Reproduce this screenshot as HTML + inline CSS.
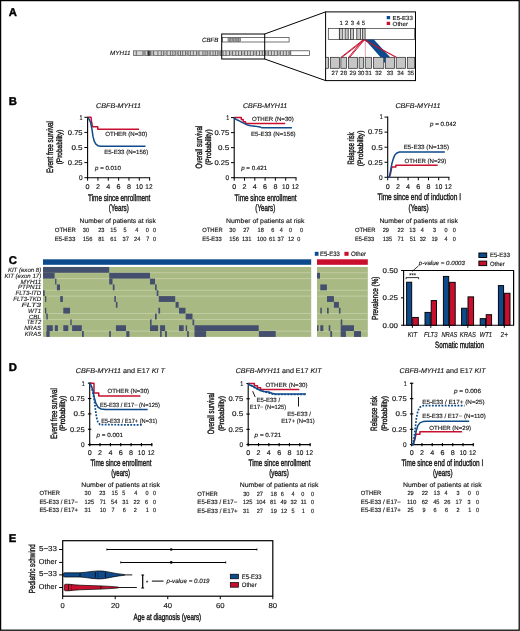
<!DOCTYPE html>
<html><head><meta charset="utf-8"><title>Figure</title>
<style>
html,body{margin:0;padding:0;background:#fff;}
svg{display:block;will-change:transform;}
text{font-family:"Liberation Sans",sans-serif;text-rendering:geometricPrecision;stroke:#1a1a1a;stroke-width:0.14px;}
</style></head>
<body>
<svg width="520" height="631" viewBox="0 0 520 631">
<rect x="0" y="0" width="520" height="631" fill="#fff"/>
<rect x="0.60" y="0.60" width="518.60" height="629.60" fill="none" stroke="#000" stroke-width="1.25"/>
<text x="8.7" y="15.8" font-size="11.3" font-weight="bold" fill="#000" style="stroke:#000;stroke-width:0.4px">A</text>
<text x="8.7" y="105.1" font-size="11.3" font-weight="bold" fill="#000" style="stroke:#000;stroke-width:0.4px">B</text>
<text x="8.7" y="263.6" font-size="11.3" font-weight="bold" fill="#000" style="stroke:#000;stroke-width:0.4px">C</text>
<text x="8.7" y="370.7" font-size="11.3" font-weight="bold" fill="#000" style="stroke:#000;stroke-width:0.4px">D</text>
<text x="8.7" y="541.7" font-size="11.3" font-weight="bold" fill="#000" style="stroke:#000;stroke-width:0.4px">E</text>
<text x="218.50" y="42.33" font-size="6.2" text-anchor="end" font-style="italic" textLength="16.50" lengthAdjust="spacingAndGlyphs" fill="#111">CBFB</text>
<rect x="222.30" y="37.60" width="66.80" height="4.40" fill="#fff" stroke="#3a3a3a" stroke-width="0.7"/>
<rect x="228.00" y="37.90" width="2.00" height="3.80" fill="#a8a8a8" stroke="#555" stroke-width="0.55"/>
<rect x="230.70" y="37.90" width="2.00" height="3.80" fill="#a8a8a8" stroke="#555" stroke-width="0.55"/>
<rect x="233.40" y="37.90" width="2.00" height="3.80" fill="#a8a8a8" stroke="#555" stroke-width="0.55"/>
<rect x="236.10" y="37.90" width="2.00" height="3.80" fill="#a8a8a8" stroke="#555" stroke-width="0.55"/>
<rect x="238.60" y="37.90" width="2.00" height="3.80" fill="#a8a8a8" stroke="#555" stroke-width="0.55"/>
<text x="130.50" y="55.33" font-size="6.2" text-anchor="end" font-style="italic" textLength="20.50" lengthAdjust="spacingAndGlyphs" fill="#111">MYH11</text>
<rect x="133.40" y="50.80" width="157.40" height="4.80" fill="#d4d4d4" stroke="#555" stroke-width="0.7"/>
<rect x="143.00" y="50.80" width="2.00" height="4.80" fill="#b8b8b8"/>
<rect x="147.80" y="50.80" width="1.90" height="4.80" fill="#333"/>
<rect x="150.70" y="50.80" width="2.90" height="4.80" fill="#b8b8b8"/>
<rect x="163.70" y="50.80" width="3.30" height="4.80" fill="#b8b8b8"/>
<rect x="175.20" y="50.80" width="2.90" height="4.80" fill="#b8b8b8"/>
<rect x="185.60" y="50.80" width="2.40" height="4.80" fill="#b8b8b8"/>
<rect x="196.60" y="50.80" width="2.40" height="4.80" fill="#b8b8b8"/>
<rect x="207.20" y="50.80" width="2.90" height="4.80" fill="#b8b8b8"/>
<rect x="217.80" y="50.80" width="2.40" height="4.80" fill="#b8b8b8"/>
<rect x="229.50" y="50.80" width="3.10" height="4.80" fill="#b8b8b8"/>
<rect x="241.50" y="50.80" width="3.10" height="4.80" fill="#b8b8b8"/>
<rect x="253.40" y="50.80" width="3.00" height="4.80" fill="#b8b8b8"/>
<rect x="265.30" y="50.80" width="3.00" height="4.80" fill="#b8b8b8"/>
<rect x="277.40" y="50.80" width="2.90" height="4.80" fill="#b8b8b8"/>
<rect x="289.00" y="50.80" width="1.80" height="4.80" fill="#b8b8b8"/>
<line x1="136.30" y1="51.00" x2="136.30" y2="55.40" stroke="#444" stroke-width="0.75"/>
<line x1="143.00" y1="51.00" x2="143.00" y2="55.40" stroke="#444" stroke-width="0.75"/>
<line x1="145.00" y1="51.00" x2="145.00" y2="55.40" stroke="#444" stroke-width="0.75"/>
<line x1="147.80" y1="51.00" x2="147.80" y2="55.40" stroke="#444" stroke-width="0.75"/>
<line x1="149.70" y1="51.00" x2="149.70" y2="55.40" stroke="#444" stroke-width="0.75"/>
<line x1="150.70" y1="51.00" x2="150.70" y2="55.40" stroke="#444" stroke-width="0.75"/>
<line x1="153.60" y1="51.00" x2="153.60" y2="55.40" stroke="#444" stroke-width="0.75"/>
<line x1="157.90" y1="51.00" x2="157.90" y2="55.40" stroke="#444" stroke-width="0.75"/>
<line x1="161.30" y1="51.00" x2="161.30" y2="55.40" stroke="#444" stroke-width="0.75"/>
<line x1="163.70" y1="51.00" x2="163.70" y2="55.40" stroke="#444" stroke-width="0.75"/>
<line x1="167.00" y1="51.00" x2="167.00" y2="55.40" stroke="#444" stroke-width="0.75"/>
<line x1="170.40" y1="51.00" x2="170.40" y2="55.40" stroke="#444" stroke-width="0.75"/>
<line x1="172.80" y1="51.00" x2="172.80" y2="55.40" stroke="#444" stroke-width="0.75"/>
<line x1="175.20" y1="51.00" x2="175.20" y2="55.40" stroke="#444" stroke-width="0.75"/>
<line x1="178.10" y1="51.00" x2="178.10" y2="55.40" stroke="#444" stroke-width="0.75"/>
<line x1="180.50" y1="51.00" x2="180.50" y2="55.40" stroke="#444" stroke-width="0.75"/>
<line x1="182.70" y1="51.00" x2="182.70" y2="55.40" stroke="#444" stroke-width="0.75"/>
<line x1="185.60" y1="51.00" x2="185.60" y2="55.40" stroke="#444" stroke-width="0.75"/>
<line x1="188.00" y1="51.00" x2="188.00" y2="55.40" stroke="#444" stroke-width="0.75"/>
<line x1="190.40" y1="51.00" x2="190.40" y2="55.40" stroke="#444" stroke-width="0.75"/>
<line x1="193.30" y1="51.00" x2="193.30" y2="55.40" stroke="#444" stroke-width="0.75"/>
<line x1="196.60" y1="51.00" x2="196.60" y2="55.40" stroke="#444" stroke-width="0.75"/>
<line x1="199.00" y1="51.00" x2="199.00" y2="55.40" stroke="#444" stroke-width="0.75"/>
<line x1="202.90" y1="51.00" x2="202.90" y2="55.40" stroke="#444" stroke-width="0.75"/>
<line x1="205.10" y1="51.00" x2="205.10" y2="55.40" stroke="#444" stroke-width="0.75"/>
<line x1="207.20" y1="51.00" x2="207.20" y2="55.40" stroke="#444" stroke-width="0.75"/>
<line x1="210.10" y1="51.00" x2="210.10" y2="55.40" stroke="#444" stroke-width="0.75"/>
<line x1="213.00" y1="51.00" x2="213.00" y2="55.40" stroke="#444" stroke-width="0.75"/>
<line x1="215.40" y1="51.00" x2="215.40" y2="55.40" stroke="#444" stroke-width="0.75"/>
<line x1="217.80" y1="51.00" x2="217.80" y2="55.40" stroke="#444" stroke-width="0.75"/>
<line x1="220.20" y1="51.00" x2="220.20" y2="55.40" stroke="#444" stroke-width="0.75"/>
<line x1="223.00" y1="51.00" x2="223.00" y2="55.40" stroke="#444" stroke-width="0.75"/>
<line x1="226.00" y1="51.00" x2="226.00" y2="55.40" stroke="#444" stroke-width="0.75"/>
<line x1="229.50" y1="51.00" x2="229.50" y2="55.40" stroke="#444" stroke-width="0.75"/>
<line x1="232.60" y1="51.00" x2="232.60" y2="55.40" stroke="#444" stroke-width="0.75"/>
<line x1="235.80" y1="51.00" x2="235.80" y2="55.40" stroke="#444" stroke-width="0.75"/>
<line x1="238.60" y1="51.00" x2="238.60" y2="55.40" stroke="#444" stroke-width="0.75"/>
<line x1="241.50" y1="51.00" x2="241.50" y2="55.40" stroke="#444" stroke-width="0.75"/>
<line x1="244.60" y1="51.00" x2="244.60" y2="55.40" stroke="#444" stroke-width="0.75"/>
<line x1="247.60" y1="51.00" x2="247.60" y2="55.40" stroke="#444" stroke-width="0.75"/>
<line x1="250.30" y1="51.00" x2="250.30" y2="55.40" stroke="#444" stroke-width="0.75"/>
<line x1="253.40" y1="51.00" x2="253.40" y2="55.40" stroke="#444" stroke-width="0.75"/>
<line x1="256.40" y1="51.00" x2="256.40" y2="55.40" stroke="#444" stroke-width="0.75"/>
<line x1="259.50" y1="51.00" x2="259.50" y2="55.40" stroke="#444" stroke-width="0.75"/>
<line x1="262.30" y1="51.00" x2="262.30" y2="55.40" stroke="#444" stroke-width="0.75"/>
<line x1="265.30" y1="51.00" x2="265.30" y2="55.40" stroke="#444" stroke-width="0.75"/>
<line x1="268.30" y1="51.00" x2="268.30" y2="55.40" stroke="#444" stroke-width="0.75"/>
<line x1="271.40" y1="51.00" x2="271.40" y2="55.40" stroke="#444" stroke-width="0.75"/>
<line x1="274.30" y1="51.00" x2="274.30" y2="55.40" stroke="#444" stroke-width="0.75"/>
<line x1="277.40" y1="51.00" x2="277.40" y2="55.40" stroke="#444" stroke-width="0.75"/>
<line x1="280.30" y1="51.00" x2="280.30" y2="55.40" stroke="#444" stroke-width="0.75"/>
<line x1="283.30" y1="51.00" x2="283.30" y2="55.40" stroke="#444" stroke-width="0.75"/>
<line x1="286.30" y1="51.00" x2="286.30" y2="55.40" stroke="#444" stroke-width="0.75"/>
<line x1="289.00" y1="51.00" x2="289.00" y2="55.40" stroke="#444" stroke-width="0.75"/>
<rect x="290.80" y="50.80" width="18.60" height="4.80" fill="#fff" stroke="#3a3a3a" stroke-width="0.7"/>
<rect x="221.70" y="34.00" width="43.00" height="25.00" fill="none" stroke="#000" stroke-width="1.0"/>
<line x1="264.70" y1="34.00" x2="325.60" y2="11.90" stroke="#000" stroke-width="1.0"/>
<line x1="264.70" y1="59.00" x2="325.60" y2="80.60" stroke="#000" stroke-width="1.0"/>
<rect x="325.60" y="11.90" width="89.90" height="68.70" fill="#fff" stroke="#000" stroke-width="1.0"/>
<rect x="328.30" y="28.50" width="86.40" height="10.90" fill="#fff" stroke="#333" stroke-width="0.7"/>
<line x1="339.40" y1="28.50" x2="339.40" y2="39.40" stroke="#333" stroke-width="0.7"/>
<rect x="339.40" y="28.50" width="3.40" height="10.90" fill="#c6c6c6" stroke="#222" stroke-width="0.7"/>
<rect x="345.10" y="28.50" width="3.10" height="10.90" fill="#c6c6c6" stroke="#222" stroke-width="0.7"/>
<rect x="350.50" y="28.50" width="2.90" height="10.90" fill="#c6c6c6" stroke="#222" stroke-width="0.7"/>
<rect x="356.80" y="28.50" width="3.90" height="10.90" fill="#c6c6c6" stroke="#222" stroke-width="0.7"/>
<rect x="362.40" y="28.50" width="2.70" height="10.90" fill="#c6c6c6" stroke="#222" stroke-width="0.7"/>
<text x="341.10" y="25.16" font-size="6.0" text-anchor="middle" fill="#222">1</text>
<text x="346.60" y="25.16" font-size="6.0" text-anchor="middle" fill="#222">2</text>
<text x="352.40" y="25.16" font-size="6.0" text-anchor="middle" fill="#222">3</text>
<text x="358.20" y="25.16" font-size="6.0" text-anchor="middle" fill="#222">4</text>
<text x="363.40" y="25.16" font-size="6.0" text-anchor="middle" fill="#222">5</text>
<rect x="325.60" y="57.30" width="2.90" height="11.00" fill="#c6c6c6" stroke="#222" stroke-width="0.7"/>
<rect x="330.30" y="57.30" width="9.10" height="11.00" fill="#c6c6c6" stroke="#222" stroke-width="0.7"/>
<rect x="340.90" y="57.30" width="5.70" height="11.00" fill="#c6c6c6" stroke="#222" stroke-width="0.7"/>
<rect x="348.50" y="57.30" width="9.10" height="11.00" fill="#c6c6c6" stroke="#222" stroke-width="0.7"/>
<rect x="359.10" y="57.30" width="4.30" height="11.00" fill="#c6c6c6" stroke="#222" stroke-width="0.7"/>
<rect x="365.20" y="57.30" width="6.40" height="11.00" fill="#c6c6c6" stroke="#222" stroke-width="0.7"/>
<rect x="373.40" y="57.30" width="10.40" height="11.00" fill="#c6c6c6" stroke="#222" stroke-width="0.7"/>
<rect x="385.50" y="57.30" width="8.90" height="11.00" fill="#c6c6c6" stroke="#222" stroke-width="0.7"/>
<rect x="396.20" y="57.30" width="9.40" height="11.00" fill="#c6c6c6" stroke="#222" stroke-width="0.7"/>
<rect x="407.30" y="57.30" width="7.40" height="11.00" fill="#c6c6c6" stroke="#222" stroke-width="0.7"/>
<text x="334.90" y="75.36" font-size="6.0" text-anchor="middle" fill="#222">27</text>
<text x="343.70" y="75.36" font-size="6.0" text-anchor="middle" fill="#222">28</text>
<text x="352.90" y="75.36" font-size="6.0" text-anchor="middle" fill="#222">29</text>
<text x="361.00" y="75.36" font-size="6.0" text-anchor="middle" fill="#222">30</text>
<text x="368.50" y="75.36" font-size="6.0" text-anchor="middle" fill="#222">31</text>
<text x="378.60" y="75.36" font-size="6.0" text-anchor="middle" fill="#222">32</text>
<text x="390.10" y="75.36" font-size="6.0" text-anchor="middle" fill="#222">33</text>
<text x="400.50" y="75.36" font-size="6.0" text-anchor="middle" fill="#222">34</text>
<text x="410.80" y="75.36" font-size="6.0" text-anchor="middle" fill="#222">35</text>
<path d="M364.8,39.6 L373.8,39.6 L390.2,57.3 L385.4,57.3 L385.2,62.5 L383.8,62.5 L383.6,57.3 L380.6,57.3 Z" fill="#0d4a8c" stroke="none" stroke-width="0"/>
<line x1="363.20" y1="39.80" x2="341.00" y2="57.30" stroke="#c8102e" stroke-width="0.95"/>
<line x1="364.60" y1="39.80" x2="341.90" y2="57.30" stroke="#c8102e" stroke-width="0.95"/>
<line x1="362.80" y1="39.80" x2="348.70" y2="57.30" stroke="#c8102e" stroke-width="0.95"/>
<line x1="364.40" y1="39.80" x2="349.80" y2="57.30" stroke="#c8102e" stroke-width="0.95"/>
<line x1="364.00" y1="39.70" x2="396.20" y2="57.30" stroke="#c8102e" stroke-width="1.1"/>
<line x1="365.30" y1="39.60" x2="365.30" y2="57.30" stroke="#c8102e" stroke-width="0.4"/>
<rect x="386.70" y="16.00" width="3.40" height="3.20" fill="#0d4a8c"/>
<rect x="386.70" y="21.80" width="3.40" height="3.20" fill="#c8102e"/>
<text x="392.60" y="19.63" font-size="5.9" textLength="20.30" lengthAdjust="spacingAndGlyphs" fill="#111">E5-E33</text>
<text x="392.60" y="25.73" font-size="5.9" textLength="15.40" lengthAdjust="spacingAndGlyphs" fill="#111">Other</text>
<line x1="87.60" y1="116.70" x2="87.60" y2="178.30" stroke="#000" stroke-width="1.1"/>
<line x1="87.10" y1="177.70" x2="150.14" y2="177.70" stroke="#000" stroke-width="1.1"/>
<line x1="84.40" y1="177.70" x2="87.60" y2="177.70" stroke="#000" stroke-width="1.0"/>
<text x="82.60" y="180.04" font-size="6.8" text-anchor="end" textLength="3.60" lengthAdjust="spacingAndGlyphs" fill="#111">0</text>
<line x1="84.40" y1="162.60" x2="87.60" y2="162.60" stroke="#000" stroke-width="1.0"/>
<text x="82.60" y="164.94" font-size="6.8" text-anchor="end" textLength="14.80" lengthAdjust="spacingAndGlyphs" fill="#111">0.25</text>
<line x1="84.40" y1="147.50" x2="87.60" y2="147.50" stroke="#000" stroke-width="1.0"/>
<text x="82.60" y="149.84" font-size="6.8" text-anchor="end" textLength="11.20" lengthAdjust="spacingAndGlyphs" fill="#111">0.5</text>
<line x1="84.40" y1="132.40" x2="87.60" y2="132.40" stroke="#000" stroke-width="1.0"/>
<text x="82.60" y="134.74" font-size="6.8" text-anchor="end" textLength="14.80" lengthAdjust="spacingAndGlyphs" fill="#111">0.75</text>
<line x1="84.40" y1="117.30" x2="87.60" y2="117.30" stroke="#000" stroke-width="1.0"/>
<text x="82.60" y="119.64" font-size="6.8" text-anchor="end" textLength="3.00" lengthAdjust="spacingAndGlyphs" fill="#111">1</text>
<line x1="87.60" y1="177.70" x2="87.60" y2="180.70" stroke="#000" stroke-width="1.0"/>
<text x="87.60" y="189.27" font-size="6.9" text-anchor="middle" textLength="4.00" lengthAdjust="spacingAndGlyphs" fill="#111">0</text>
<line x1="97.94" y1="177.70" x2="97.94" y2="180.70" stroke="#000" stroke-width="1.0"/>
<text x="97.94" y="189.27" font-size="6.9" text-anchor="middle" textLength="4.00" lengthAdjust="spacingAndGlyphs" fill="#111">2</text>
<line x1="108.28" y1="177.70" x2="108.28" y2="180.70" stroke="#000" stroke-width="1.0"/>
<text x="108.28" y="189.27" font-size="6.9" text-anchor="middle" textLength="4.00" lengthAdjust="spacingAndGlyphs" fill="#111">4</text>
<line x1="118.62" y1="177.70" x2="118.62" y2="180.70" stroke="#000" stroke-width="1.0"/>
<text x="118.62" y="189.27" font-size="6.9" text-anchor="middle" textLength="4.00" lengthAdjust="spacingAndGlyphs" fill="#111">6</text>
<line x1="128.96" y1="177.70" x2="128.96" y2="180.70" stroke="#000" stroke-width="1.0"/>
<text x="128.96" y="189.27" font-size="6.9" text-anchor="middle" textLength="4.00" lengthAdjust="spacingAndGlyphs" fill="#111">8</text>
<line x1="139.30" y1="177.70" x2="139.30" y2="180.70" stroke="#000" stroke-width="1.0"/>
<text x="139.30" y="189.27" font-size="6.9" text-anchor="middle" textLength="7.20" lengthAdjust="spacingAndGlyphs" fill="#111">10</text>
<line x1="149.64" y1="177.70" x2="149.64" y2="180.70" stroke="#000" stroke-width="1.0"/>
<text x="148.94" y="189.27" font-size="6.9" text-anchor="middle" textLength="7.20" lengthAdjust="spacingAndGlyphs" fill="#111">12</text>
<text transform="translate(52.56,147.00) rotate(-90)" x="0" y="0" font-size="9.2" text-anchor="middle" textLength="52.00" lengthAdjust="spacingAndGlyphs" fill="#111" style="stroke-width:0.4px">Event free survival</text>
<text transform="translate(62.08,147.00) rotate(-90)" x="0" y="0" font-size="7.8" text-anchor="middle" textLength="34.60" lengthAdjust="spacingAndGlyphs" fill="#111" style="stroke-width:0.4px">(Probability)</text>
<text x="96.00" y="108.30" font-size="6.9" textLength="45.00" lengthAdjust="spacingAndGlyphs" fill="#111"><tspan font-style="italic">CBFB-MYH11</tspan></text>
<text x="88.00" y="200.63" font-size="9.4" style="stroke-width:0.4px" textLength="62.40" lengthAdjust="spacingAndGlyphs" fill="#111">Time since enrollment</text>
<text x="108.80" y="211.23" font-size="9.4" style="stroke-width:0.4px" textLength="20.00" lengthAdjust="spacingAndGlyphs" fill="#111">(Years)</text>
<path d="M87.60,117.30 L91.06,117.30 L91.48,121.53 L92.25,125.15 L92.77,126.78 L97.78,126.78 L97.78,129.20 L139.04,129.20" fill="none" stroke="#c8102e" stroke-width="1.5" stroke-linejoin="round"/>
<path d="M87.60,117.30 L89.15,119.41 L90.70,122.74 L91.99,129.38 L93.03,136.63 L94.32,141.46 L95.87,144.18 L97.94,145.69 L100.52,146.29 L145.50,146.29" fill="none" stroke="#0f4a8a" stroke-width="1.5" stroke-linejoin="round"/>
<text x="105.20" y="135.86" font-size="6.0" textLength="42.00" lengthAdjust="spacingAndGlyphs" fill="#111">OTHER (N=30)</text>
<text x="104.20" y="154.06" font-size="6.0" textLength="44.10" lengthAdjust="spacingAndGlyphs" fill="#111">E5-E33 (N=156)</text>
<text x="95.00" y="169.96" font-size="6.0" textLength="25.80" lengthAdjust="spacingAndGlyphs" fill="#111"><tspan font-style="italic">p</tspan> = 0.010</text>
<line x1="234.20" y1="117.00" x2="234.20" y2="178.30" stroke="#000" stroke-width="1.1"/>
<line x1="233.70" y1="177.70" x2="296.50" y2="177.70" stroke="#000" stroke-width="1.1"/>
<line x1="231.00" y1="177.70" x2="234.20" y2="177.70" stroke="#000" stroke-width="1.0"/>
<text x="229.20" y="180.04" font-size="6.8" text-anchor="end" textLength="3.60" lengthAdjust="spacingAndGlyphs" fill="#111">0</text>
<line x1="231.00" y1="162.67" x2="234.20" y2="162.67" stroke="#000" stroke-width="1.0"/>
<text x="229.20" y="165.01" font-size="6.8" text-anchor="end" textLength="14.80" lengthAdjust="spacingAndGlyphs" fill="#111">0.25</text>
<line x1="231.00" y1="147.65" x2="234.20" y2="147.65" stroke="#000" stroke-width="1.0"/>
<text x="229.20" y="149.99" font-size="6.8" text-anchor="end" textLength="11.20" lengthAdjust="spacingAndGlyphs" fill="#111">0.5</text>
<line x1="231.00" y1="132.62" x2="234.20" y2="132.62" stroke="#000" stroke-width="1.0"/>
<text x="229.20" y="134.96" font-size="6.8" text-anchor="end" textLength="14.80" lengthAdjust="spacingAndGlyphs" fill="#111">0.75</text>
<line x1="231.00" y1="117.60" x2="234.20" y2="117.60" stroke="#000" stroke-width="1.0"/>
<text x="229.20" y="119.94" font-size="6.8" text-anchor="end" textLength="3.00" lengthAdjust="spacingAndGlyphs" fill="#111">1</text>
<line x1="234.20" y1="177.70" x2="234.20" y2="180.70" stroke="#000" stroke-width="1.0"/>
<text x="234.20" y="189.27" font-size="6.9" text-anchor="middle" textLength="4.00" lengthAdjust="spacingAndGlyphs" fill="#111">0</text>
<line x1="244.50" y1="177.70" x2="244.50" y2="180.70" stroke="#000" stroke-width="1.0"/>
<text x="244.50" y="189.27" font-size="6.9" text-anchor="middle" textLength="4.00" lengthAdjust="spacingAndGlyphs" fill="#111">2</text>
<line x1="254.80" y1="177.70" x2="254.80" y2="180.70" stroke="#000" stroke-width="1.0"/>
<text x="254.80" y="189.27" font-size="6.9" text-anchor="middle" textLength="4.00" lengthAdjust="spacingAndGlyphs" fill="#111">4</text>
<line x1="265.10" y1="177.70" x2="265.10" y2="180.70" stroke="#000" stroke-width="1.0"/>
<text x="265.10" y="189.27" font-size="6.9" text-anchor="middle" textLength="4.00" lengthAdjust="spacingAndGlyphs" fill="#111">6</text>
<line x1="275.40" y1="177.70" x2="275.40" y2="180.70" stroke="#000" stroke-width="1.0"/>
<text x="275.40" y="189.27" font-size="6.9" text-anchor="middle" textLength="4.00" lengthAdjust="spacingAndGlyphs" fill="#111">8</text>
<line x1="285.70" y1="177.70" x2="285.70" y2="180.70" stroke="#000" stroke-width="1.0"/>
<text x="285.70" y="189.27" font-size="6.9" text-anchor="middle" textLength="7.20" lengthAdjust="spacingAndGlyphs" fill="#111">10</text>
<line x1="296.00" y1="177.70" x2="296.00" y2="180.70" stroke="#000" stroke-width="1.0"/>
<text x="295.30" y="189.27" font-size="6.9" text-anchor="middle" textLength="7.20" lengthAdjust="spacingAndGlyphs" fill="#111">12</text>
<text transform="translate(201.86,147.15) rotate(-90)" x="0" y="0" font-size="9.2" text-anchor="middle" textLength="42.80" lengthAdjust="spacingAndGlyphs" fill="#111" style="stroke-width:0.4px">Overall survival</text>
<text transform="translate(211.08,147.15) rotate(-90)" x="0" y="0" font-size="7.8" text-anchor="middle" textLength="35.60" lengthAdjust="spacingAndGlyphs" fill="#111" style="stroke-width:0.4px">(Probability)</text>
<text x="243.00" y="108.30" font-size="6.9" textLength="44.30" lengthAdjust="spacingAndGlyphs" fill="#111"><tspan font-style="italic">CBFB-MYH11</tspan></text>
<text x="234.60" y="200.63" font-size="9.4" style="stroke-width:0.4px" textLength="62.00" lengthAdjust="spacingAndGlyphs" fill="#111">Time since enrollment</text>
<text x="255.30" y="211.23" font-size="9.4" style="stroke-width:0.4px" textLength="20.00" lengthAdjust="spacingAndGlyphs" fill="#111">(Years)</text>
<path d="M234.20,117.60 L241.31,117.60 L241.31,119.58 L243.21,119.58 L243.21,121.63 L245.53,121.63 L245.53,123.61 L285.19,123.61" fill="none" stroke="#c8102e" stroke-width="1.5" stroke-linejoin="round"/>
<path d="M234.20,117.60 L235.74,119.10 L237.29,120.00 L239.35,120.91 L241.92,122.41 L244.50,123.61 L247.59,125.11 L250.68,125.71 L254.80,126.13 L259.95,126.92 L262.01,127.82 L291.88,127.82" fill="none" stroke="#0f4a8a" stroke-width="1.5" stroke-linejoin="round"/>
<text x="251.90" y="120.86" font-size="6.0" textLength="41.80" lengthAdjust="spacingAndGlyphs" fill="#111">OTHER (N=30)</text>
<text x="251.00" y="135.56" font-size="6.0" textLength="44.60" lengthAdjust="spacingAndGlyphs" fill="#111">E5-E33 (N=156)</text>
<text x="241.20" y="169.86" font-size="6.0" textLength="26.00" lengthAdjust="spacingAndGlyphs" fill="#111"><tspan font-style="italic">p</tspan> = 0.421</text>
<line x1="387.70" y1="116.50" x2="387.70" y2="177.90" stroke="#000" stroke-width="1.1"/>
<line x1="387.20" y1="177.30" x2="449.40" y2="177.30" stroke="#000" stroke-width="1.1"/>
<line x1="384.50" y1="177.30" x2="387.70" y2="177.30" stroke="#000" stroke-width="1.0"/>
<text x="382.70" y="179.64" font-size="6.8" text-anchor="end" textLength="3.60" lengthAdjust="spacingAndGlyphs" fill="#111">0</text>
<line x1="384.50" y1="162.25" x2="387.70" y2="162.25" stroke="#000" stroke-width="1.0"/>
<text x="382.70" y="164.59" font-size="6.8" text-anchor="end" textLength="14.80" lengthAdjust="spacingAndGlyphs" fill="#111">0.25</text>
<line x1="384.50" y1="147.20" x2="387.70" y2="147.20" stroke="#000" stroke-width="1.0"/>
<text x="382.70" y="149.54" font-size="6.8" text-anchor="end" textLength="11.20" lengthAdjust="spacingAndGlyphs" fill="#111">0.5</text>
<line x1="384.50" y1="132.15" x2="387.70" y2="132.15" stroke="#000" stroke-width="1.0"/>
<text x="382.70" y="134.49" font-size="6.8" text-anchor="end" textLength="14.80" lengthAdjust="spacingAndGlyphs" fill="#111">0.75</text>
<line x1="384.50" y1="117.10" x2="387.70" y2="117.10" stroke="#000" stroke-width="1.0"/>
<text x="382.70" y="119.44" font-size="6.8" text-anchor="end" textLength="3.00" lengthAdjust="spacingAndGlyphs" fill="#111">1</text>
<line x1="387.70" y1="177.30" x2="387.70" y2="180.30" stroke="#000" stroke-width="1.0"/>
<text x="387.70" y="188.87" font-size="6.9" text-anchor="middle" textLength="4.00" lengthAdjust="spacingAndGlyphs" fill="#111">0</text>
<line x1="397.90" y1="177.30" x2="397.90" y2="180.30" stroke="#000" stroke-width="1.0"/>
<text x="397.90" y="188.87" font-size="6.9" text-anchor="middle" textLength="4.00" lengthAdjust="spacingAndGlyphs" fill="#111">2</text>
<line x1="408.10" y1="177.30" x2="408.10" y2="180.30" stroke="#000" stroke-width="1.0"/>
<text x="408.10" y="188.87" font-size="6.9" text-anchor="middle" textLength="4.00" lengthAdjust="spacingAndGlyphs" fill="#111">4</text>
<line x1="418.30" y1="177.30" x2="418.30" y2="180.30" stroke="#000" stroke-width="1.0"/>
<text x="418.30" y="188.87" font-size="6.9" text-anchor="middle" textLength="4.00" lengthAdjust="spacingAndGlyphs" fill="#111">6</text>
<line x1="428.50" y1="177.30" x2="428.50" y2="180.30" stroke="#000" stroke-width="1.0"/>
<text x="428.50" y="188.87" font-size="6.9" text-anchor="middle" textLength="4.00" lengthAdjust="spacingAndGlyphs" fill="#111">8</text>
<line x1="438.70" y1="177.30" x2="438.70" y2="180.30" stroke="#000" stroke-width="1.0"/>
<text x="438.70" y="188.87" font-size="6.9" text-anchor="middle" textLength="7.20" lengthAdjust="spacingAndGlyphs" fill="#111">10</text>
<line x1="448.90" y1="177.30" x2="448.90" y2="180.30" stroke="#000" stroke-width="1.0"/>
<text x="448.20" y="188.87" font-size="6.9" text-anchor="middle" textLength="7.20" lengthAdjust="spacingAndGlyphs" fill="#111">12</text>
<text transform="translate(354.36,148.40) rotate(-90)" x="0" y="0" font-size="9.2" text-anchor="middle" textLength="32.00" lengthAdjust="spacingAndGlyphs" fill="#111" style="stroke-width:0.4px">Relapse risk</text>
<text transform="translate(363.28,148.40) rotate(-90)" x="0" y="0" font-size="7.8" text-anchor="middle" textLength="35.60" lengthAdjust="spacingAndGlyphs" fill="#111" style="stroke-width:0.4px">(Probability)</text>
<text x="395.40" y="108.30" font-size="6.9" textLength="45.00" lengthAdjust="spacingAndGlyphs" fill="#111"><tspan font-style="italic">CBFB-MYH11</tspan></text>
<text x="377.40" y="200.23" font-size="9.4" style="stroke-width:0.4px" textLength="83.60" lengthAdjust="spacingAndGlyphs" fill="#111">Time since end of induction I</text>
<text x="408.60" y="210.83" font-size="9.4" style="stroke-width:0.4px" textLength="20.00" lengthAdjust="spacingAndGlyphs" fill="#111">(Years)</text>
<path d="M387.70,177.30 L389.23,177.30 L390.50,173.69 L391.78,167.07 L395.86,167.07 L395.86,165.26 L437.68,165.26" fill="none" stroke="#c8102e" stroke-width="1.5" stroke-linejoin="round"/>
<path d="M387.70,177.30 L389.23,177.30 L390.50,171.28 L391.78,164.06 L393.31,158.64 L394.84,155.03 L396.88,152.92 L399.43,152.02 L444.82,152.02" fill="none" stroke="#0f4a8a" stroke-width="1.5" stroke-linejoin="round"/>
<text x="404.60" y="163.06" font-size="6.0" textLength="41.70" lengthAdjust="spacingAndGlyphs" fill="#111">OTHER (N=29)</text>
<text x="403.70" y="148.96" font-size="6.0" textLength="45.50" lengthAdjust="spacingAndGlyphs" fill="#111">E5-E33 (N=135)</text>
<text x="430.00" y="125.86" font-size="6.0" textLength="26.20" lengthAdjust="spacingAndGlyphs" fill="#111"><tspan font-style="italic">p</tspan> = 0.042</text>
<text x="79.60" y="223.17" font-size="6.6" textLength="76.20" lengthAdjust="spacingAndGlyphs" fill="#111">Number of patients at risk</text>
<text x="54.70" y="232.40" font-size="6.1" textLength="21.10" lengthAdjust="spacingAndGlyphs" fill="#111">OTHER</text>
<text x="82.80" y="232.40" font-size="6.1" textLength="6.30" lengthAdjust="spacingAndGlyphs" fill="#111">30</text>
<text x="98.20" y="232.40" font-size="6.1" textLength="6.30" lengthAdjust="spacingAndGlyphs" fill="#111">23</text>
<text x="110.30" y="232.40" font-size="6.1" textLength="6.30" lengthAdjust="spacingAndGlyphs" fill="#111">15</text>
<text x="123.60" y="232.40" font-size="6.1" textLength="3.05" lengthAdjust="spacingAndGlyphs" fill="#111">5</text>
<text x="135.30" y="232.40" font-size="6.1" textLength="3.05" lengthAdjust="spacingAndGlyphs" fill="#111">4</text>
<text x="145.80" y="232.40" font-size="6.1" textLength="3.05" lengthAdjust="spacingAndGlyphs" fill="#111">0</text>
<text x="153.00" y="232.40" font-size="6.1" textLength="3.05" lengthAdjust="spacingAndGlyphs" fill="#111">0</text>
<text x="54.70" y="240.70" font-size="6.1" textLength="20.70" lengthAdjust="spacingAndGlyphs" fill="#111">E5-E33</text>
<text x="82.80" y="240.70" font-size="6.1" textLength="9.55" lengthAdjust="spacingAndGlyphs" fill="#111">156</text>
<text x="98.20" y="240.70" font-size="6.1" textLength="6.30" lengthAdjust="spacingAndGlyphs" fill="#111">81</text>
<text x="110.30" y="240.70" font-size="6.1" textLength="6.30" lengthAdjust="spacingAndGlyphs" fill="#111">61</text>
<text x="122.60" y="240.70" font-size="6.1" textLength="6.30" lengthAdjust="spacingAndGlyphs" fill="#111">37</text>
<text x="134.00" y="240.70" font-size="6.1" textLength="6.30" lengthAdjust="spacingAndGlyphs" fill="#111">24</text>
<text x="146.30" y="240.70" font-size="6.1" textLength="3.05" lengthAdjust="spacingAndGlyphs" fill="#111">7</text>
<text x="153.00" y="240.70" font-size="6.1" textLength="3.05" lengthAdjust="spacingAndGlyphs" fill="#111">0</text>
<text x="226.00" y="222.97" font-size="6.6" textLength="78.50" lengthAdjust="spacingAndGlyphs" fill="#111">Number of patients at risk</text>
<text x="202.30" y="232.20" font-size="6.1" textLength="20.30" lengthAdjust="spacingAndGlyphs" fill="#111">OTHER</text>
<text x="229.30" y="232.20" font-size="6.1" textLength="6.30" lengthAdjust="spacingAndGlyphs" fill="#111">30</text>
<text x="243.20" y="232.20" font-size="6.1" textLength="6.30" lengthAdjust="spacingAndGlyphs" fill="#111">27</text>
<text x="257.60" y="232.20" font-size="6.1" textLength="6.30" lengthAdjust="spacingAndGlyphs" fill="#111">18</text>
<text x="271.30" y="232.20" font-size="6.1" textLength="3.05" lengthAdjust="spacingAndGlyphs" fill="#111">6</text>
<text x="279.70" y="232.20" font-size="6.1" textLength="3.05" lengthAdjust="spacingAndGlyphs" fill="#111">4</text>
<text x="289.00" y="232.20" font-size="6.1" textLength="3.05" lengthAdjust="spacingAndGlyphs" fill="#111">0</text>
<text x="300.00" y="232.20" font-size="6.1" textLength="3.05" lengthAdjust="spacingAndGlyphs" fill="#111">0</text>
<text x="202.30" y="240.50" font-size="6.1" textLength="19.40" lengthAdjust="spacingAndGlyphs" fill="#111">E5-E33</text>
<text x="229.30" y="240.50" font-size="6.1" textLength="9.55" lengthAdjust="spacingAndGlyphs" fill="#111">156</text>
<text x="241.90" y="240.50" font-size="6.1" textLength="9.55" lengthAdjust="spacingAndGlyphs" fill="#111">131</text>
<text x="256.90" y="240.50" font-size="6.1" textLength="9.55" lengthAdjust="spacingAndGlyphs" fill="#111">100</text>
<text x="269.10" y="240.50" font-size="6.1" textLength="6.30" lengthAdjust="spacingAndGlyphs" fill="#111">61</text>
<text x="277.50" y="240.50" font-size="6.1" textLength="6.30" lengthAdjust="spacingAndGlyphs" fill="#111">37</text>
<text x="287.90" y="240.50" font-size="6.1" textLength="6.30" lengthAdjust="spacingAndGlyphs" fill="#111">12</text>
<text x="297.20" y="240.50" font-size="6.1" textLength="3.05" lengthAdjust="spacingAndGlyphs" fill="#111">0</text>
<text x="379.40" y="222.97" font-size="6.6" textLength="78.50" lengthAdjust="spacingAndGlyphs" fill="#111">Number of patients at risk</text>
<text x="354.90" y="232.20" font-size="6.1" textLength="20.50" lengthAdjust="spacingAndGlyphs" fill="#111">OTHER</text>
<text x="382.70" y="232.20" font-size="6.1" textLength="6.30" lengthAdjust="spacingAndGlyphs" fill="#111">29</text>
<text x="397.50" y="232.20" font-size="6.1" textLength="6.30" lengthAdjust="spacingAndGlyphs" fill="#111">22</text>
<text x="409.30" y="232.20" font-size="6.1" textLength="6.30" lengthAdjust="spacingAndGlyphs" fill="#111">13</text>
<text x="420.80" y="232.20" font-size="6.1" textLength="3.05" lengthAdjust="spacingAndGlyphs" fill="#111">4</text>
<text x="432.90" y="232.20" font-size="6.1" textLength="3.05" lengthAdjust="spacingAndGlyphs" fill="#111">3</text>
<text x="444.60" y="232.20" font-size="6.1" textLength="3.05" lengthAdjust="spacingAndGlyphs" fill="#111">0</text>
<text x="452.80" y="232.20" font-size="6.1" textLength="3.05" lengthAdjust="spacingAndGlyphs" fill="#111">0</text>
<text x="354.90" y="240.50" font-size="6.1" textLength="19.40" lengthAdjust="spacingAndGlyphs" fill="#111">E5-E33</text>
<text x="382.70" y="240.50" font-size="6.1" textLength="9.55" lengthAdjust="spacingAndGlyphs" fill="#111">135</text>
<text x="397.50" y="240.50" font-size="6.1" textLength="6.30" lengthAdjust="spacingAndGlyphs" fill="#111">71</text>
<text x="409.70" y="240.50" font-size="6.1" textLength="6.30" lengthAdjust="spacingAndGlyphs" fill="#111">51</text>
<text x="419.70" y="240.50" font-size="6.1" textLength="6.30" lengthAdjust="spacingAndGlyphs" fill="#111">32</text>
<text x="431.40" y="240.50" font-size="6.1" textLength="6.30" lengthAdjust="spacingAndGlyphs" fill="#111">19</text>
<text x="444.60" y="240.50" font-size="6.1" textLength="3.05" lengthAdjust="spacingAndGlyphs" fill="#111">4</text>
<text x="452.80" y="240.50" font-size="6.1" textLength="3.05" lengthAdjust="spacingAndGlyphs" fill="#111">0</text>
<rect x="43.00" y="259.30" width="268.20" height="5.50" fill="#0d4a8c"/>
<rect x="317.00" y="259.30" width="50.80" height="5.50" fill="#c8102e"/>
<rect x="43.00" y="266.95" width="268.20" height="69.96" fill="#a9b984"/>
<rect x="317.00" y="266.95" width="50.80" height="69.96" fill="#a9b984"/>
<line x1="43.00" y1="272.78" x2="311.20" y2="272.78" stroke="#d0d9b4" stroke-width="0.7" stroke-opacity="0.9"/>
<line x1="317.00" y1="272.78" x2="367.80" y2="272.78" stroke="#d0d9b4" stroke-width="0.7" stroke-opacity="0.9"/>
<line x1="43.00" y1="278.61" x2="311.20" y2="278.61" stroke="#d0d9b4" stroke-width="0.7" stroke-opacity="0.9"/>
<line x1="317.00" y1="278.61" x2="367.80" y2="278.61" stroke="#d0d9b4" stroke-width="0.7" stroke-opacity="0.9"/>
<line x1="43.00" y1="290.27" x2="311.20" y2="290.27" stroke="#d0d9b4" stroke-width="0.7" stroke-opacity="0.9"/>
<line x1="317.00" y1="290.27" x2="367.80" y2="290.27" stroke="#d0d9b4" stroke-width="0.7" stroke-opacity="0.9"/>
<line x1="43.00" y1="296.10" x2="311.20" y2="296.10" stroke="#d0d9b4" stroke-width="0.7" stroke-opacity="0.9"/>
<line x1="317.00" y1="296.10" x2="367.80" y2="296.10" stroke="#d0d9b4" stroke-width="0.7" stroke-opacity="0.9"/>
<line x1="43.00" y1="313.59" x2="311.20" y2="313.59" stroke="#d0d9b4" stroke-width="0.7" stroke-opacity="0.9"/>
<line x1="317.00" y1="313.59" x2="367.80" y2="313.59" stroke="#d0d9b4" stroke-width="0.7" stroke-opacity="0.9"/>
<line x1="43.00" y1="319.42" x2="311.20" y2="319.42" stroke="#d0d9b4" stroke-width="0.7" stroke-opacity="0.9"/>
<line x1="317.00" y1="319.42" x2="367.80" y2="319.42" stroke="#d0d9b4" stroke-width="0.7" stroke-opacity="0.9"/>
<line x1="43.00" y1="331.08" x2="311.20" y2="331.08" stroke="#d0d9b4" stroke-width="0.7" stroke-opacity="0.9"/>
<line x1="317.00" y1="331.08" x2="367.80" y2="331.08" stroke="#d0d9b4" stroke-width="0.7" stroke-opacity="0.9"/>
<rect x="43.00" y="266.95" width="66.20" height="5.83" fill="#434f6d"/>
<rect x="43.00" y="272.78" width="11.60" height="5.83" fill="#434f6d"/>
<rect x="109.20" y="272.78" width="40.80" height="5.83" fill="#434f6d"/>
<rect x="317.00" y="272.78" width="3.00" height="5.83" fill="#434f6d"/>
<rect x="55.10" y="278.61" width="1.30" height="5.83" fill="#434f6d"/>
<rect x="109.20" y="278.61" width="3.30" height="5.83" fill="#434f6d"/>
<rect x="150.00" y="278.61" width="5.00" height="5.83" fill="#434f6d"/>
<rect x="56.90" y="284.44" width="3.10" height="5.83" fill="#434f6d"/>
<rect x="112.80" y="284.44" width="1.70" height="5.83" fill="#434f6d"/>
<rect x="155.00" y="284.44" width="1.70" height="5.83" fill="#434f6d"/>
<rect x="320.30" y="284.44" width="6.60" height="5.83" fill="#434f6d"/>
<rect x="43.00" y="290.27" width="1.70" height="5.83" fill="#434f6d"/>
<rect x="156.70" y="290.27" width="1.70" height="5.83" fill="#434f6d"/>
<rect x="45.00" y="296.10" width="1.30" height="5.83" fill="#434f6d"/>
<rect x="60.20" y="296.10" width="2.70" height="5.83" fill="#434f6d"/>
<rect x="114.30" y="296.10" width="1.60" height="5.83" fill="#434f6d"/>
<rect x="158.80" y="296.10" width="16.40" height="5.83" fill="#434f6d"/>
<rect x="327.00" y="296.10" width="6.90" height="5.83" fill="#434f6d"/>
<rect x="115.90" y="301.93" width="1.60" height="5.83" fill="#434f6d"/>
<rect x="175.60" y="301.93" width="3.10" height="5.83" fill="#434f6d"/>
<rect x="333.90" y="301.93" width="5.00" height="5.83" fill="#434f6d"/>
<rect x="45.00" y="307.76" width="1.30" height="5.83" fill="#434f6d"/>
<rect x="63.30" y="307.76" width="6.70" height="5.83" fill="#434f6d"/>
<rect x="158.40" y="307.76" width="1.70" height="5.83" fill="#434f6d"/>
<rect x="179.00" y="307.76" width="6.50" height="5.83" fill="#434f6d"/>
<rect x="320.30" y="307.76" width="1.50" height="5.83" fill="#434f6d"/>
<rect x="327.00" y="307.76" width="1.70" height="5.83" fill="#434f6d"/>
<rect x="338.90" y="307.76" width="1.60" height="5.83" fill="#434f6d"/>
<rect x="46.30" y="313.59" width="1.50" height="5.83" fill="#434f6d"/>
<rect x="155.00" y="313.59" width="1.70" height="5.83" fill="#434f6d"/>
<rect x="185.70" y="313.59" width="6.80" height="5.83" fill="#434f6d"/>
<rect x="70.30" y="319.42" width="1.40" height="5.83" fill="#434f6d"/>
<rect x="150.00" y="319.42" width="1.60" height="5.83" fill="#434f6d"/>
<rect x="192.50" y="319.42" width="1.70" height="5.83" fill="#434f6d"/>
<rect x="340.70" y="319.42" width="1.60" height="5.83" fill="#434f6d"/>
<rect x="46.70" y="325.25" width="6.10" height="5.83" fill="#434f6d"/>
<rect x="54.80" y="325.25" width="3.10" height="5.83" fill="#434f6d"/>
<rect x="63.30" y="325.25" width="5.00" height="5.83" fill="#434f6d"/>
<rect x="72.10" y="325.25" width="9.70" height="5.83" fill="#434f6d"/>
<rect x="115.90" y="325.25" width="10.10" height="5.83" fill="#434f6d"/>
<rect x="150.00" y="325.25" width="8.10" height="5.83" fill="#434f6d"/>
<rect x="160.10" y="325.25" width="5.00" height="5.83" fill="#434f6d"/>
<rect x="179.00" y="325.25" width="4.70" height="5.83" fill="#434f6d"/>
<rect x="185.70" y="325.25" width="1.40" height="5.83" fill="#434f6d"/>
<rect x="194.50" y="325.25" width="64.20" height="5.83" fill="#434f6d"/>
<rect x="317.00" y="325.25" width="1.50" height="5.83" fill="#434f6d"/>
<rect x="320.30" y="325.25" width="3.00" height="5.83" fill="#434f6d"/>
<rect x="328.70" y="325.25" width="1.60" height="5.83" fill="#434f6d"/>
<rect x="340.70" y="325.25" width="13.30" height="5.83" fill="#434f6d"/>
<rect x="46.30" y="331.08" width="3.40" height="5.83" fill="#434f6d"/>
<rect x="82.00" y="331.08" width="1.80" height="5.83" fill="#434f6d"/>
<rect x="109.20" y="331.08" width="1.70" height="5.83" fill="#434f6d"/>
<rect x="126.30" y="331.08" width="3.10" height="5.83" fill="#434f6d"/>
<rect x="160.10" y="331.08" width="1.60" height="5.83" fill="#434f6d"/>
<rect x="165.10" y="331.08" width="1.80" height="5.83" fill="#434f6d"/>
<rect x="187.10" y="331.08" width="1.70" height="5.83" fill="#434f6d"/>
<rect x="194.50" y="331.08" width="11.60" height="5.83" fill="#434f6d"/>
<rect x="258.90" y="331.08" width="16.80" height="5.83" fill="#434f6d"/>
<rect x="330.30" y="331.08" width="1.80" height="5.83" fill="#434f6d"/>
<rect x="340.70" y="331.08" width="5.20" height="5.83" fill="#434f6d"/>
<rect x="354.00" y="331.08" width="7.00" height="5.83" fill="#434f6d"/>
<text x="41.20" y="271.96" font-size="6.1" text-anchor="end" font-style="italic" style="stroke-width:0.1px" textLength="33.30" lengthAdjust="spacingAndGlyphs" fill="#111">KIT (exon 8)</text>
<text x="41.20" y="277.79" font-size="6.1" text-anchor="end" font-style="italic" style="stroke-width:0.1px" textLength="36.80" lengthAdjust="spacingAndGlyphs" fill="#111">KIT (exon 17)</text>
<text x="41.20" y="283.62" font-size="6.1" text-anchor="end" font-style="italic" style="stroke-width:0.1px" textLength="20.80" lengthAdjust="spacingAndGlyphs" fill="#111">MYH11</text>
<text x="41.20" y="289.45" font-size="6.1" text-anchor="end" font-style="italic" style="stroke-width:0.1px" textLength="23.30" lengthAdjust="spacingAndGlyphs" fill="#111">PTPN11</text>
<text x="41.20" y="295.28" font-size="6.1" text-anchor="end" font-style="italic" style="stroke-width:0.1px" textLength="25.60" lengthAdjust="spacingAndGlyphs" fill="#111">FLT3-ITD</text>
<text x="41.20" y="301.11" font-size="6.1" text-anchor="end" font-style="italic" style="stroke-width:0.1px" textLength="27.90" lengthAdjust="spacingAndGlyphs" fill="#111">FLT3-TKD</text>
<text x="41.20" y="306.94" font-size="6.1" text-anchor="end" font-style="italic" style="stroke-width:0.1px" textLength="19.80" lengthAdjust="spacingAndGlyphs" fill="#111">FLT3</text>
<text x="41.20" y="312.77" font-size="6.1" text-anchor="end" font-style="italic" style="stroke-width:0.1px" textLength="13.10" lengthAdjust="spacingAndGlyphs" fill="#111">WT1</text>
<text x="41.20" y="318.60" font-size="6.1" text-anchor="end" font-style="italic" style="stroke-width:0.1px" textLength="12.50" lengthAdjust="spacingAndGlyphs" fill="#111">CBL</text>
<text x="41.20" y="324.43" font-size="6.1" text-anchor="end" font-style="italic" style="stroke-width:0.1px" textLength="14.50" lengthAdjust="spacingAndGlyphs" fill="#111">TET2</text>
<text x="41.20" y="330.26" font-size="6.1" text-anchor="end" font-style="italic" style="stroke-width:0.1px" textLength="17.00" lengthAdjust="spacingAndGlyphs" fill="#111">NRAS</text>
<text x="41.20" y="336.09" font-size="6.1" text-anchor="end" font-style="italic" style="stroke-width:0.1px" textLength="16.40" lengthAdjust="spacingAndGlyphs" fill="#111">KRAS</text>
<rect x="314.80" y="251.80" width="3.70" height="4.00" fill="#0d4a8c"/>
<text x="320.00" y="256.07" font-size="6.3" textLength="19.90" lengthAdjust="spacingAndGlyphs" fill="#111">E5-E33</text>
<rect x="344.40" y="251.80" width="4.20" height="4.00" fill="#c8102e"/>
<text x="350.90" y="256.07" font-size="6.3" textLength="15.20" lengthAdjust="spacingAndGlyphs" fill="#111">Other</text>
<path d="M403.6,270.5 L513.6,270.5 L513.6,325.2" fill="none" stroke="#000" stroke-width="1.2"/>
<line x1="403.60" y1="270.00" x2="403.60" y2="325.70" stroke="#000" stroke-width="1.1"/>
<line x1="403.10" y1="325.20" x2="514.10" y2="325.20" stroke="#000" stroke-width="1.1"/>
<line x1="401.00" y1="325.20" x2="403.60" y2="325.20" stroke="#000" stroke-width="1.0"/>
<text x="398.00" y="327.54" font-size="6.8" text-anchor="end" textLength="15.40" lengthAdjust="spacingAndGlyphs" fill="#111">0.00</text>
<line x1="401.00" y1="297.85" x2="403.60" y2="297.85" stroke="#000" stroke-width="1.0"/>
<text x="398.00" y="300.19" font-size="6.8" text-anchor="end" textLength="15.40" lengthAdjust="spacingAndGlyphs" fill="#111">0.25</text>
<line x1="401.00" y1="270.50" x2="403.60" y2="270.50" stroke="#000" stroke-width="1.0"/>
<text x="398.00" y="272.84" font-size="6.8" text-anchor="end" textLength="15.40" lengthAdjust="spacingAndGlyphs" fill="#111">0.50</text>
<text transform="translate(378.43,298.20) rotate(-90)" x="0" y="0" font-size="8.8" text-anchor="middle" textLength="43.30" lengthAdjust="spacingAndGlyphs" fill="#111" style="stroke-width:0.4px">Prevalence (%)</text>
<rect x="406.60" y="282.21" width="5.10" height="42.99" fill="#0f4a8a" stroke="#000" stroke-width="0.95"/>
<rect x="412.70" y="317.43" width="5.60" height="7.77" fill="#c8102e" stroke="#000" stroke-width="0.95"/>
<rect x="425.00" y="312.40" width="5.30" height="12.80" fill="#0f4a8a" stroke="#000" stroke-width="0.95"/>
<rect x="431.20" y="300.58" width="5.30" height="24.62" fill="#c8102e" stroke="#000" stroke-width="0.95"/>
<rect x="443.40" y="276.41" width="5.30" height="48.79" fill="#0f4a8a" stroke="#000" stroke-width="0.95"/>
<rect x="449.60" y="282.32" width="5.60" height="42.88" fill="#c8102e" stroke="#000" stroke-width="0.95"/>
<rect x="461.60" y="308.24" width="5.50" height="16.96" fill="#0f4a8a" stroke="#000" stroke-width="0.95"/>
<rect x="468.00" y="296.87" width="5.60" height="28.33" fill="#c8102e" stroke="#000" stroke-width="0.95"/>
<rect x="480.20" y="318.64" width="5.30" height="6.56" fill="#0f4a8a" stroke="#000" stroke-width="0.95"/>
<rect x="486.20" y="314.70" width="5.40" height="10.50" fill="#c8102e" stroke="#000" stroke-width="0.95"/>
<rect x="498.40" y="285.60" width="5.20" height="39.60" fill="#0f4a8a" stroke="#000" stroke-width="0.95"/>
<rect x="504.60" y="293.26" width="5.40" height="31.94" fill="#c8102e" stroke="#000" stroke-width="0.95"/>
<line x1="412.40" y1="325.20" x2="412.40" y2="327.80" stroke="#000" stroke-width="1.0"/>
<text x="412.40" y="337.08" font-size="7.2" text-anchor="middle" font-style="italic" textLength="9.20" lengthAdjust="spacingAndGlyphs" fill="#111">KIT</text>
<line x1="430.80" y1="325.20" x2="430.80" y2="327.80" stroke="#000" stroke-width="1.0"/>
<text x="430.80" y="337.08" font-size="7.2" text-anchor="middle" font-style="italic" textLength="13.40" lengthAdjust="spacingAndGlyphs" fill="#111">FLT3</text>
<line x1="449.40" y1="325.20" x2="449.40" y2="327.80" stroke="#000" stroke-width="1.0"/>
<text x="449.40" y="337.08" font-size="7.2" text-anchor="middle" font-style="italic" textLength="16.00" lengthAdjust="spacingAndGlyphs" fill="#111">NRAS</text>
<line x1="467.80" y1="325.20" x2="467.80" y2="327.80" stroke="#000" stroke-width="1.0"/>
<text x="467.80" y="337.08" font-size="7.2" text-anchor="middle" font-style="italic" textLength="16.00" lengthAdjust="spacingAndGlyphs" fill="#111">KRAS</text>
<line x1="485.90" y1="325.20" x2="485.90" y2="327.80" stroke="#000" stroke-width="1.0"/>
<text x="485.90" y="337.08" font-size="7.2" text-anchor="middle" font-style="italic" textLength="12.60" lengthAdjust="spacingAndGlyphs" fill="#111">WT1</text>
<line x1="504.30" y1="325.20" x2="504.30" y2="327.80" stroke="#000" stroke-width="1.0"/>
<text x="504.30" y="337.08" font-size="7.2" text-anchor="middle" textLength="7.60" lengthAdjust="spacingAndGlyphs" fill="#111">2+</text>
<text x="459.60" y="347.66" font-size="9.2" text-anchor="middle" style="stroke-width:0.4px" textLength="49.00" lengthAdjust="spacingAndGlyphs" fill="#111">Somatic mutation</text>
<rect x="478.90" y="253.00" width="7.80" height="4.50" fill="#0f4a8a" stroke="#000" stroke-width="0.95"/>
<rect x="478.90" y="261.10" width="7.80" height="4.50" fill="#c8102e" stroke="#000" stroke-width="0.95"/>
<text x="490.00" y="257.43" font-size="6.2" textLength="20.00" lengthAdjust="spacingAndGlyphs" fill="#111">E5-E33</text>
<text x="490.00" y="265.53" font-size="6.2" textLength="14.60" lengthAdjust="spacingAndGlyphs" fill="#111">Other</text>
<text x="418.80" y="264.70" font-size="6.1" font-style="italic" textLength="46.20" lengthAdjust="spacingAndGlyphs" fill="#111">p-value = 0.0003</text>
<line x1="412.00" y1="271.50" x2="418.00" y2="266.30" stroke="#000" stroke-width="0.8"/>
<path d="M406.1,279.2 L406.1,277.6 L418.7,277.6 L418.7,279.2" fill="none" stroke="#000" stroke-width="0.8"/>
<text x="409.30" y="277.29" font-size="5.5" textLength="6.60" lengthAdjust="spacingAndGlyphs" fill="#111">***</text>
<line x1="89.70" y1="382.60" x2="89.70" y2="445.20" stroke="#000" stroke-width="1.1"/>
<line x1="89.20" y1="444.60" x2="152.30" y2="444.60" stroke="#000" stroke-width="1.3"/>
<line x1="87.90" y1="444.60" x2="91.30" y2="444.60" stroke="#000" stroke-width="1.1"/>
<text x="84.70" y="446.94" font-size="6.8" text-anchor="end" textLength="3.60" lengthAdjust="spacingAndGlyphs" fill="#111">0</text>
<line x1="87.90" y1="429.25" x2="91.30" y2="429.25" stroke="#000" stroke-width="1.1"/>
<text x="84.70" y="431.59" font-size="6.8" text-anchor="end" textLength="14.80" lengthAdjust="spacingAndGlyphs" fill="#111">0.25</text>
<line x1="87.90" y1="413.90" x2="91.30" y2="413.90" stroke="#000" stroke-width="1.1"/>
<text x="84.70" y="416.24" font-size="6.8" text-anchor="end" textLength="11.20" lengthAdjust="spacingAndGlyphs" fill="#111">0.5</text>
<line x1="87.90" y1="398.55" x2="91.30" y2="398.55" stroke="#000" stroke-width="1.1"/>
<text x="84.70" y="400.89" font-size="6.8" text-anchor="end" textLength="14.80" lengthAdjust="spacingAndGlyphs" fill="#111">0.75</text>
<line x1="87.90" y1="383.20" x2="91.30" y2="383.20" stroke="#000" stroke-width="1.1"/>
<text x="84.70" y="385.54" font-size="6.8" text-anchor="end" textLength="3.00" lengthAdjust="spacingAndGlyphs" fill="#111">1</text>
<line x1="89.70" y1="443.00" x2="89.70" y2="446.20" stroke="#000" stroke-width="1.1"/>
<text x="89.70" y="454.57" font-size="6.9" text-anchor="middle" textLength="4.00" lengthAdjust="spacingAndGlyphs" fill="#111">0</text>
<line x1="100.05" y1="443.00" x2="100.05" y2="446.20" stroke="#000" stroke-width="1.1"/>
<text x="100.05" y="454.57" font-size="6.9" text-anchor="middle" textLength="4.00" lengthAdjust="spacingAndGlyphs" fill="#111">2</text>
<line x1="110.40" y1="443.00" x2="110.40" y2="446.20" stroke="#000" stroke-width="1.1"/>
<text x="110.40" y="454.57" font-size="6.9" text-anchor="middle" textLength="4.00" lengthAdjust="spacingAndGlyphs" fill="#111">4</text>
<line x1="120.75" y1="443.00" x2="120.75" y2="446.20" stroke="#000" stroke-width="1.1"/>
<text x="120.75" y="454.57" font-size="6.9" text-anchor="middle" textLength="4.00" lengthAdjust="spacingAndGlyphs" fill="#111">6</text>
<line x1="131.10" y1="443.00" x2="131.10" y2="446.20" stroke="#000" stroke-width="1.1"/>
<text x="131.10" y="454.57" font-size="6.9" text-anchor="middle" textLength="4.00" lengthAdjust="spacingAndGlyphs" fill="#111">8</text>
<line x1="141.45" y1="443.00" x2="141.45" y2="446.20" stroke="#000" stroke-width="1.1"/>
<text x="141.45" y="454.57" font-size="6.9" text-anchor="middle" textLength="7.20" lengthAdjust="spacingAndGlyphs" fill="#111">10</text>
<line x1="151.80" y1="443.00" x2="151.80" y2="446.20" stroke="#000" stroke-width="1.1"/>
<text x="151.10" y="454.57" font-size="6.9" text-anchor="middle" textLength="7.20" lengthAdjust="spacingAndGlyphs" fill="#111">12</text>
<text transform="translate(56.56,413.40) rotate(-90)" x="0" y="0" font-size="9.2" text-anchor="middle" textLength="50.50" lengthAdjust="spacingAndGlyphs" fill="#111" style="stroke-width:0.4px">Event free survival</text>
<text transform="translate(65.38,413.40) rotate(-90)" x="0" y="0" font-size="7.8" text-anchor="middle" textLength="35.00" lengthAdjust="spacingAndGlyphs" fill="#111" style="stroke-width:0.4px">(Probability)</text>
<text x="75.80" y="373.20" font-size="6.9" textLength="89.20" lengthAdjust="spacingAndGlyphs" fill="#111"><tspan font-style="italic">CBFB-MYH11</tspan> and E17 <tspan font-style="italic">KI T</tspan></text>
<text x="90.40" y="466.13" font-size="9.4" style="stroke-width:0.4px" textLength="61.10" lengthAdjust="spacingAndGlyphs" fill="#111">Time since enrollment</text>
<text x="111.20" y="476.33" font-size="9.4" style="stroke-width:0.4px" textLength="18.90" lengthAdjust="spacingAndGlyphs" fill="#111">(years)</text>
<path d="M89.70,383.20 L94.00,383.20 L94.00,393.02 L98.76,393.02 L98.76,396.09 L140.42,396.09" fill="none" stroke="#c8102e" stroke-width="1.5" stroke-linejoin="round"/>
<path d="M89.70,383.20 L91.25,385.66 L92.81,389.95 L94.36,397.94 L95.91,403.46 L97.98,407.15 L101.09,408.99 L105.22,409.60 L147.66,409.60" fill="none" stroke="#0f4a8a" stroke-width="1.5" stroke-linejoin="round"/>
<path d="M89.70,383.20 L91.25,386.27 L92.81,392.41 L94.36,400.39 L95.39,408.99 L96.43,416.97 L97.98,422.50 L100.05,424.64 L143.00,424.95" fill="none" stroke="#0f4a8a" stroke-width="1.7" stroke-linejoin="round" stroke-dasharray="1.8,1.4"/>
<text x="107.60" y="393.46" font-size="6.0" textLength="41.50" lengthAdjust="spacingAndGlyphs" fill="#111">OTHER (N=30)</text>
<text x="100.00" y="406.56" font-size="6.0" textLength="60.00" lengthAdjust="spacingAndGlyphs" fill="#111">E5-E33 / E17− (N=125)</text>
<text x="101.20" y="422.56" font-size="6.0" textLength="56.00" lengthAdjust="spacingAndGlyphs" fill="#111">E5-E33 / E17+ (N=31)</text>
<text x="96.50" y="436.96" font-size="6.0" textLength="26.50" lengthAdjust="spacingAndGlyphs" fill="#111"><tspan font-style="italic">p</tspan> = 0.001</text>
<line x1="248.20" y1="382.90" x2="248.20" y2="445.20" stroke="#000" stroke-width="1.1"/>
<line x1="247.70" y1="444.60" x2="310.62" y2="444.60" stroke="#000" stroke-width="1.3"/>
<line x1="246.40" y1="444.60" x2="249.80" y2="444.60" stroke="#000" stroke-width="1.1"/>
<text x="243.20" y="446.94" font-size="6.8" text-anchor="end" textLength="3.60" lengthAdjust="spacingAndGlyphs" fill="#111">0</text>
<line x1="246.40" y1="429.33" x2="249.80" y2="429.33" stroke="#000" stroke-width="1.1"/>
<text x="243.20" y="431.66" font-size="6.8" text-anchor="end" textLength="14.80" lengthAdjust="spacingAndGlyphs" fill="#111">0.25</text>
<line x1="246.40" y1="414.05" x2="249.80" y2="414.05" stroke="#000" stroke-width="1.1"/>
<text x="243.20" y="416.39" font-size="6.8" text-anchor="end" textLength="11.20" lengthAdjust="spacingAndGlyphs" fill="#111">0.5</text>
<line x1="246.40" y1="398.77" x2="249.80" y2="398.77" stroke="#000" stroke-width="1.1"/>
<text x="243.20" y="401.11" font-size="6.8" text-anchor="end" textLength="14.80" lengthAdjust="spacingAndGlyphs" fill="#111">0.75</text>
<line x1="246.40" y1="383.50" x2="249.80" y2="383.50" stroke="#000" stroke-width="1.1"/>
<text x="243.20" y="385.84" font-size="6.8" text-anchor="end" textLength="3.00" lengthAdjust="spacingAndGlyphs" fill="#111">1</text>
<line x1="248.20" y1="443.00" x2="248.20" y2="446.20" stroke="#000" stroke-width="1.1"/>
<text x="248.20" y="454.57" font-size="6.9" text-anchor="middle" textLength="4.00" lengthAdjust="spacingAndGlyphs" fill="#111">0</text>
<line x1="258.52" y1="443.00" x2="258.52" y2="446.20" stroke="#000" stroke-width="1.1"/>
<text x="258.52" y="454.57" font-size="6.9" text-anchor="middle" textLength="4.00" lengthAdjust="spacingAndGlyphs" fill="#111">2</text>
<line x1="268.84" y1="443.00" x2="268.84" y2="446.20" stroke="#000" stroke-width="1.1"/>
<text x="268.84" y="454.57" font-size="6.9" text-anchor="middle" textLength="4.00" lengthAdjust="spacingAndGlyphs" fill="#111">4</text>
<line x1="279.16" y1="443.00" x2="279.16" y2="446.20" stroke="#000" stroke-width="1.1"/>
<text x="279.16" y="454.57" font-size="6.9" text-anchor="middle" textLength="4.00" lengthAdjust="spacingAndGlyphs" fill="#111">6</text>
<line x1="289.48" y1="443.00" x2="289.48" y2="446.20" stroke="#000" stroke-width="1.1"/>
<text x="289.48" y="454.57" font-size="6.9" text-anchor="middle" textLength="4.00" lengthAdjust="spacingAndGlyphs" fill="#111">8</text>
<line x1="299.80" y1="443.00" x2="299.80" y2="446.20" stroke="#000" stroke-width="1.1"/>
<text x="299.80" y="454.57" font-size="6.9" text-anchor="middle" textLength="7.20" lengthAdjust="spacingAndGlyphs" fill="#111">10</text>
<line x1="310.12" y1="443.00" x2="310.12" y2="446.20" stroke="#000" stroke-width="1.1"/>
<text x="309.42" y="454.57" font-size="6.9" text-anchor="middle" textLength="7.20" lengthAdjust="spacingAndGlyphs" fill="#111">12</text>
<text transform="translate(214.36,413.55) rotate(-90)" x="0" y="0" font-size="9.2" text-anchor="middle" textLength="41.60" lengthAdjust="spacingAndGlyphs" fill="#111" style="stroke-width:0.4px">Overall survival</text>
<text transform="translate(224.28,413.55) rotate(-90)" x="0" y="0" font-size="7.8" text-anchor="middle" textLength="35.00" lengthAdjust="spacingAndGlyphs" fill="#111" style="stroke-width:0.4px">(Probability)</text>
<text x="235.70" y="373.20" font-size="6.9" textLength="85.80" lengthAdjust="spacingAndGlyphs" fill="#111"><tspan font-style="italic">CBFB-MYH11</tspan> and E17 <tspan font-style="italic">KIT</tspan></text>
<text x="248.50" y="466.13" font-size="9.4" style="stroke-width:0.4px" textLength="61.90" lengthAdjust="spacingAndGlyphs" fill="#111">Time since enrollment</text>
<text x="269.20" y="476.33" font-size="9.4" style="stroke-width:0.4px" textLength="19.60" lengthAdjust="spacingAndGlyphs" fill="#111">(years)</text>
<path d="M248.20,383.50 L254.39,383.50 L254.39,385.64 L257.49,385.64 L257.49,387.78 L260.58,387.78 L260.58,389.61 L299.28,389.61" fill="none" stroke="#c8102e" stroke-width="1.5" stroke-linejoin="round"/>
<path d="M248.20,383.50 L250.26,385.33 L253.36,386.56 L256.46,388.39 L259.55,390.22 L263.68,391.44 L268.84,392.05 L271.94,393.28 L275.03,393.89 L305.99,393.89" fill="none" stroke="#0f4a8a" stroke-width="1.5" stroke-linejoin="round"/>
<path d="M248.20,383.50 L251.30,385.33 L254.39,387.47 L258.52,389.61 L263.68,391.44 L269.87,393.28 L274.00,394.50 L305.99,394.50" fill="none" stroke="#0f4a8a" stroke-width="1.7" stroke-linejoin="round" stroke-dasharray="1.8,1.4"/>
<text x="265.60" y="387.46" font-size="6.0" textLength="41.90" lengthAdjust="spacingAndGlyphs" fill="#111">OTHER (N=30)</text>
<text x="256.50" y="402.46" font-size="6.0" textLength="23.60" lengthAdjust="spacingAndGlyphs" fill="#111">E5-E33 /</text>
<text x="249.80" y="409.16" font-size="6.0" textLength="36.40" lengthAdjust="spacingAndGlyphs" fill="#111">E17− (N=125)</text>
<text x="287.30" y="415.86" font-size="6.0" textLength="23.60" lengthAdjust="spacingAndGlyphs" fill="#111">E5-E33 /</text>
<text x="281.20" y="423.36" font-size="6.0" textLength="33.60" lengthAdjust="spacingAndGlyphs" fill="#111">E17+ (N=31)</text>
<text x="254.60" y="436.56" font-size="6.0" textLength="26.60" lengthAdjust="spacingAndGlyphs" fill="#111"><tspan font-style="italic">p</tspan> = 0.721</text>
<line x1="252.70" y1="391.20" x2="255.20" y2="397.00" stroke="#000" stroke-width="0.9"/>
<line x1="298.50" y1="397.00" x2="298.50" y2="406.50" stroke="#000" stroke-width="0.9"/>
<line x1="411.70" y1="382.70" x2="411.70" y2="445.20" stroke="#000" stroke-width="1.1"/>
<line x1="411.20" y1="444.60" x2="473.76" y2="444.60" stroke="#000" stroke-width="1.3"/>
<line x1="409.90" y1="444.60" x2="413.30" y2="444.60" stroke="#000" stroke-width="1.1"/>
<text x="406.70" y="446.94" font-size="6.8" text-anchor="end" textLength="3.60" lengthAdjust="spacingAndGlyphs" fill="#111">0</text>
<line x1="409.90" y1="429.28" x2="413.30" y2="429.28" stroke="#000" stroke-width="1.1"/>
<text x="406.70" y="431.61" font-size="6.8" text-anchor="end" textLength="14.80" lengthAdjust="spacingAndGlyphs" fill="#111">0.25</text>
<line x1="409.90" y1="413.95" x2="413.30" y2="413.95" stroke="#000" stroke-width="1.1"/>
<text x="406.70" y="416.29" font-size="6.8" text-anchor="end" textLength="11.20" lengthAdjust="spacingAndGlyphs" fill="#111">0.5</text>
<line x1="409.90" y1="398.62" x2="413.30" y2="398.62" stroke="#000" stroke-width="1.1"/>
<text x="406.70" y="400.96" font-size="6.8" text-anchor="end" textLength="14.80" lengthAdjust="spacingAndGlyphs" fill="#111">0.75</text>
<line x1="409.90" y1="383.30" x2="413.30" y2="383.30" stroke="#000" stroke-width="1.1"/>
<text x="406.70" y="385.64" font-size="6.8" text-anchor="end" textLength="3.00" lengthAdjust="spacingAndGlyphs" fill="#111">1</text>
<line x1="411.70" y1="443.00" x2="411.70" y2="446.20" stroke="#000" stroke-width="1.1"/>
<text x="411.70" y="454.57" font-size="6.9" text-anchor="middle" textLength="4.00" lengthAdjust="spacingAndGlyphs" fill="#111">0</text>
<line x1="421.96" y1="443.00" x2="421.96" y2="446.20" stroke="#000" stroke-width="1.1"/>
<text x="421.96" y="454.57" font-size="6.9" text-anchor="middle" textLength="4.00" lengthAdjust="spacingAndGlyphs" fill="#111">2</text>
<line x1="432.22" y1="443.00" x2="432.22" y2="446.20" stroke="#000" stroke-width="1.1"/>
<text x="432.22" y="454.57" font-size="6.9" text-anchor="middle" textLength="4.00" lengthAdjust="spacingAndGlyphs" fill="#111">4</text>
<line x1="442.48" y1="443.00" x2="442.48" y2="446.20" stroke="#000" stroke-width="1.1"/>
<text x="442.48" y="454.57" font-size="6.9" text-anchor="middle" textLength="4.00" lengthAdjust="spacingAndGlyphs" fill="#111">6</text>
<line x1="452.74" y1="443.00" x2="452.74" y2="446.20" stroke="#000" stroke-width="1.1"/>
<text x="452.74" y="454.57" font-size="6.9" text-anchor="middle" textLength="4.00" lengthAdjust="spacingAndGlyphs" fill="#111">8</text>
<line x1="463.00" y1="443.00" x2="463.00" y2="446.20" stroke="#000" stroke-width="1.1"/>
<text x="463.00" y="454.57" font-size="6.9" text-anchor="middle" textLength="7.20" lengthAdjust="spacingAndGlyphs" fill="#111">10</text>
<line x1="473.26" y1="443.00" x2="473.26" y2="446.20" stroke="#000" stroke-width="1.1"/>
<text x="472.56" y="454.57" font-size="6.9" text-anchor="middle" textLength="7.20" lengthAdjust="spacingAndGlyphs" fill="#111">12</text>
<text transform="translate(376.96,413.45) rotate(-90)" x="0" y="0" font-size="9.2" text-anchor="middle" textLength="35.00" lengthAdjust="spacingAndGlyphs" fill="#111" style="stroke-width:0.4px">Relapse risk</text>
<text transform="translate(387.28,413.45) rotate(-90)" x="0" y="0" font-size="7.8" text-anchor="middle" textLength="35.00" lengthAdjust="spacingAndGlyphs" fill="#111" style="stroke-width:0.4px">(Probability)</text>
<text x="399.60" y="373.20" font-size="6.9" textLength="86.10" lengthAdjust="spacingAndGlyphs" fill="#111"><tspan font-style="italic">CBFB-MYH11</tspan> and E17 <tspan font-style="italic">KIT</tspan></text>
<text x="401.40" y="466.13" font-size="9.4" style="stroke-width:0.4px" textLength="81.80" lengthAdjust="spacingAndGlyphs" fill="#111">Time since end of induction I</text>
<text x="433.00" y="476.33" font-size="9.4" style="stroke-width:0.4px" textLength="19.60" lengthAdjust="spacingAndGlyphs" fill="#111">(years)</text>
<path d="M411.70,444.60 L413.24,444.60 L414.78,439.70 L416.06,434.18 L419.91,434.18 L419.91,431.73 L461.97,431.73" fill="none" stroke="#c8102e" stroke-width="1.5" stroke-linejoin="round"/>
<path d="M411.70,444.60 L413.24,444.60 L414.78,438.47 L416.32,430.50 L417.86,425.60 L419.91,422.84 L422.99,421.61 L427.09,421.31 L469.16,421.31" fill="none" stroke="#0f4a8a" stroke-width="1.5" stroke-linejoin="round"/>
<path d="M411.70,444.60 L413.24,442.76 L414.78,432.34 L416.32,418.85 L417.86,410.88 L419.91,407.21 L422.99,405.67 L464.54,405.67" fill="none" stroke="#0f4a8a" stroke-width="1.7" stroke-linejoin="round" stroke-dasharray="1.8,1.4"/>
<text x="454.00" y="393.26" font-size="6.0" textLength="27.00" lengthAdjust="spacingAndGlyphs" fill="#111"><tspan font-style="italic">p</tspan> = 0.006</text>
<text x="422.30" y="403.76" font-size="6.0" textLength="62.40" lengthAdjust="spacingAndGlyphs" fill="#111">E5-E33 / E17+ (N=25)</text>
<text x="422.30" y="417.56" font-size="6.0" textLength="63.50" lengthAdjust="spacingAndGlyphs" fill="#111">E5-E33 / E17− (N=110)</text>
<text x="429.30" y="429.56" font-size="6.0" textLength="41.80" lengthAdjust="spacingAndGlyphs" fill="#111">OTHER (N=29)</text>
<text x="81.20" y="487.07" font-size="6.6" textLength="78.80" lengthAdjust="spacingAndGlyphs" fill="#111">Number of patients at risk</text>
<text x="39.40" y="495.40" font-size="6.1" textLength="20.50" lengthAdjust="spacingAndGlyphs" fill="#111">OTHER</text>
<text x="84.60" y="495.40" font-size="6.1" textLength="6.30" lengthAdjust="spacingAndGlyphs" fill="#111">30</text>
<text x="99.20" y="495.40" font-size="6.1" textLength="6.30" lengthAdjust="spacingAndGlyphs" fill="#111">23</text>
<text x="111.50" y="495.40" font-size="6.1" textLength="6.30" lengthAdjust="spacingAndGlyphs" fill="#111">15</text>
<text x="122.30" y="495.40" font-size="6.1" textLength="3.05" lengthAdjust="spacingAndGlyphs" fill="#111">5</text>
<text x="134.20" y="495.40" font-size="6.1" textLength="3.05" lengthAdjust="spacingAndGlyphs" fill="#111">4</text>
<text x="145.40" y="495.40" font-size="6.1" textLength="3.05" lengthAdjust="spacingAndGlyphs" fill="#111">0</text>
<text x="153.10" y="495.40" font-size="6.1" textLength="3.05" lengthAdjust="spacingAndGlyphs" fill="#111">0</text>
<text x="39.40" y="503.70" font-size="6.1" textLength="38.60" lengthAdjust="spacingAndGlyphs" fill="#111">E5-E33 / E17−</text>
<text x="84.60" y="503.70" font-size="6.1" textLength="9.55" lengthAdjust="spacingAndGlyphs" fill="#111">125</text>
<text x="99.70" y="503.70" font-size="6.1" textLength="6.30" lengthAdjust="spacingAndGlyphs" fill="#111">71</text>
<text x="111.00" y="503.70" font-size="6.1" textLength="6.30" lengthAdjust="spacingAndGlyphs" fill="#111">54</text>
<text x="122.30" y="503.70" font-size="6.1" textLength="6.30" lengthAdjust="spacingAndGlyphs" fill="#111">31</text>
<text x="133.50" y="503.70" font-size="6.1" textLength="6.30" lengthAdjust="spacingAndGlyphs" fill="#111">22</text>
<text x="145.00" y="503.70" font-size="6.1" textLength="3.05" lengthAdjust="spacingAndGlyphs" fill="#111">6</text>
<text x="153.10" y="503.70" font-size="6.1" textLength="3.05" lengthAdjust="spacingAndGlyphs" fill="#111">0</text>
<text x="39.40" y="512.10" font-size="6.1" textLength="38.60" lengthAdjust="spacingAndGlyphs" fill="#111">E5-E33 / E17+</text>
<text x="84.60" y="512.10" font-size="6.1" textLength="6.30" lengthAdjust="spacingAndGlyphs" fill="#111">31</text>
<text x="99.70" y="512.10" font-size="6.1" textLength="6.30" lengthAdjust="spacingAndGlyphs" fill="#111">10</text>
<text x="111.50" y="512.10" font-size="6.1" textLength="3.05" lengthAdjust="spacingAndGlyphs" fill="#111">7</text>
<text x="122.80" y="512.10" font-size="6.1" textLength="3.05" lengthAdjust="spacingAndGlyphs" fill="#111">6</text>
<text x="133.80" y="512.10" font-size="6.1" textLength="3.05" lengthAdjust="spacingAndGlyphs" fill="#111">2</text>
<text x="145.80" y="512.10" font-size="6.1" textLength="3.05" lengthAdjust="spacingAndGlyphs" fill="#111">1</text>
<text x="153.10" y="512.10" font-size="6.1" textLength="3.05" lengthAdjust="spacingAndGlyphs" fill="#111">0</text>
<text x="239.70" y="487.47" font-size="6.6" textLength="78.80" lengthAdjust="spacingAndGlyphs" fill="#111">Number of patients at risk</text>
<text x="197.30" y="495.50" font-size="6.1" textLength="20.50" lengthAdjust="spacingAndGlyphs" fill="#111">OTHER</text>
<text x="243.20" y="495.50" font-size="6.1" textLength="6.30" lengthAdjust="spacingAndGlyphs" fill="#111">30</text>
<text x="256.70" y="495.50" font-size="6.1" textLength="6.30" lengthAdjust="spacingAndGlyphs" fill="#111">27</text>
<text x="270.60" y="495.50" font-size="6.1" textLength="6.30" lengthAdjust="spacingAndGlyphs" fill="#111">18</text>
<text x="280.80" y="495.50" font-size="6.1" textLength="3.05" lengthAdjust="spacingAndGlyphs" fill="#111">6</text>
<text x="291.40" y="495.50" font-size="6.1" textLength="3.05" lengthAdjust="spacingAndGlyphs" fill="#111">4</text>
<text x="301.20" y="495.50" font-size="6.1" textLength="3.05" lengthAdjust="spacingAndGlyphs" fill="#111">0</text>
<text x="311.00" y="495.50" font-size="6.1" textLength="3.05" lengthAdjust="spacingAndGlyphs" fill="#111">0</text>
<text x="197.30" y="504.00" font-size="6.1" textLength="40.00" lengthAdjust="spacingAndGlyphs" fill="#111">E5-E33 / E17−</text>
<text x="242.80" y="504.00" font-size="6.1" textLength="9.55" lengthAdjust="spacingAndGlyphs" fill="#111">125</text>
<text x="256.20" y="504.00" font-size="6.1" textLength="9.55" lengthAdjust="spacingAndGlyphs" fill="#111">104</text>
<text x="270.10" y="504.00" font-size="6.1" textLength="6.30" lengthAdjust="spacingAndGlyphs" fill="#111">81</text>
<text x="280.40" y="504.00" font-size="6.1" textLength="6.30" lengthAdjust="spacingAndGlyphs" fill="#111">49</text>
<text x="290.60" y="504.00" font-size="6.1" textLength="6.30" lengthAdjust="spacingAndGlyphs" fill="#111">32</text>
<text x="300.40" y="504.00" font-size="6.1" textLength="6.30" lengthAdjust="spacingAndGlyphs" fill="#111">11</text>
<text x="311.00" y="504.00" font-size="6.1" textLength="3.05" lengthAdjust="spacingAndGlyphs" fill="#111">0</text>
<text x="197.30" y="512.60" font-size="6.1" textLength="40.40" lengthAdjust="spacingAndGlyphs" fill="#111">E5-E33 / E17+</text>
<text x="243.00" y="512.60" font-size="6.1" textLength="6.30" lengthAdjust="spacingAndGlyphs" fill="#111">31</text>
<text x="256.70" y="512.60" font-size="6.1" textLength="6.30" lengthAdjust="spacingAndGlyphs" fill="#111">27</text>
<text x="270.60" y="512.60" font-size="6.1" textLength="6.30" lengthAdjust="spacingAndGlyphs" fill="#111">19</text>
<text x="280.80" y="512.60" font-size="6.1" textLength="6.30" lengthAdjust="spacingAndGlyphs" fill="#111">12</text>
<text x="291.40" y="512.60" font-size="6.1" textLength="3.05" lengthAdjust="spacingAndGlyphs" fill="#111">5</text>
<text x="301.70" y="512.60" font-size="6.1" textLength="3.05" lengthAdjust="spacingAndGlyphs" fill="#111">1</text>
<text x="311.00" y="512.60" font-size="6.1" textLength="3.05" lengthAdjust="spacingAndGlyphs" fill="#111">0</text>
<text x="403.00" y="486.87" font-size="6.6" textLength="78.70" lengthAdjust="spacingAndGlyphs" fill="#111">Number of patients at risk</text>
<text x="360.80" y="495.30" font-size="6.1" textLength="20.50" lengthAdjust="spacingAndGlyphs" fill="#111">OTHER</text>
<text x="407.40" y="495.30" font-size="6.1" textLength="6.30" lengthAdjust="spacingAndGlyphs" fill="#111">29</text>
<text x="421.70" y="495.30" font-size="6.1" textLength="6.30" lengthAdjust="spacingAndGlyphs" fill="#111">22</text>
<text x="433.50" y="495.30" font-size="6.1" textLength="6.30" lengthAdjust="spacingAndGlyphs" fill="#111">13</text>
<text x="444.50" y="495.30" font-size="6.1" textLength="3.05" lengthAdjust="spacingAndGlyphs" fill="#111">4</text>
<text x="456.40" y="495.30" font-size="6.1" textLength="3.05" lengthAdjust="spacingAndGlyphs" fill="#111">3</text>
<text x="467.80" y="495.30" font-size="6.1" textLength="3.05" lengthAdjust="spacingAndGlyphs" fill="#111">0</text>
<text x="476.00" y="495.30" font-size="6.1" textLength="3.05" lengthAdjust="spacingAndGlyphs" fill="#111">0</text>
<text x="360.80" y="503.60" font-size="6.1" textLength="40.00" lengthAdjust="spacingAndGlyphs" fill="#111">E5-E33 / E17−</text>
<text x="406.90" y="503.60" font-size="6.1" textLength="9.55" lengthAdjust="spacingAndGlyphs" fill="#111">110</text>
<text x="421.70" y="503.60" font-size="6.1" textLength="6.30" lengthAdjust="spacingAndGlyphs" fill="#111">62</text>
<text x="433.20" y="503.60" font-size="6.1" textLength="6.30" lengthAdjust="spacingAndGlyphs" fill="#111">45</text>
<text x="444.10" y="503.60" font-size="6.1" textLength="6.30" lengthAdjust="spacingAndGlyphs" fill="#111">26</text>
<text x="455.60" y="503.60" font-size="6.1" textLength="6.30" lengthAdjust="spacingAndGlyphs" fill="#111">17</text>
<text x="467.50" y="503.60" font-size="6.1" textLength="3.05" lengthAdjust="spacingAndGlyphs" fill="#111">3</text>
<text x="476.00" y="503.60" font-size="6.1" textLength="3.05" lengthAdjust="spacingAndGlyphs" fill="#111">0</text>
<text x="360.80" y="512.30" font-size="6.1" textLength="40.00" lengthAdjust="spacingAndGlyphs" fill="#111">E5-E33 / E17+</text>
<text x="407.40" y="512.30" font-size="6.1" textLength="6.30" lengthAdjust="spacingAndGlyphs" fill="#111">25</text>
<text x="422.60" y="512.30" font-size="6.1" textLength="3.05" lengthAdjust="spacingAndGlyphs" fill="#111">9</text>
<text x="433.50" y="512.30" font-size="6.1" textLength="3.05" lengthAdjust="spacingAndGlyphs" fill="#111">6</text>
<text x="445.00" y="512.30" font-size="6.1" textLength="3.05" lengthAdjust="spacingAndGlyphs" fill="#111">6</text>
<text x="456.40" y="512.30" font-size="6.1" textLength="3.05" lengthAdjust="spacingAndGlyphs" fill="#111">2</text>
<text x="468.30" y="512.30" font-size="6.1" textLength="3.05" lengthAdjust="spacingAndGlyphs" fill="#111">1</text>
<text x="476.00" y="512.30" font-size="6.1" textLength="3.05" lengthAdjust="spacingAndGlyphs" fill="#111">0</text>
<rect x="62.70" y="540.70" width="210.10" height="55.50" fill="none" stroke="#000" stroke-width="1.2"/>
<line x1="59.10" y1="549.50" x2="62.70" y2="549.50" stroke="#000" stroke-width="1.0"/>
<text x="57.00" y="551.08" font-size="7.2" text-anchor="end" textLength="18.00" lengthAdjust="spacingAndGlyphs" fill="#111">5−33</text>
<line x1="59.10" y1="562.40" x2="62.70" y2="562.40" stroke="#000" stroke-width="1.0"/>
<text x="57.00" y="563.98" font-size="7.2" text-anchor="end" textLength="18.20" lengthAdjust="spacingAndGlyphs" fill="#111">Other</text>
<line x1="59.10" y1="574.90" x2="62.70" y2="574.90" stroke="#000" stroke-width="1.0"/>
<text x="57.00" y="576.48" font-size="7.2" text-anchor="end" textLength="18.00" lengthAdjust="spacingAndGlyphs" fill="#111">5−33</text>
<line x1="59.10" y1="587.50" x2="62.70" y2="587.50" stroke="#000" stroke-width="1.0"/>
<text x="57.00" y="589.08" font-size="7.2" text-anchor="end" textLength="18.20" lengthAdjust="spacingAndGlyphs" fill="#111">Other</text>
<text transform="translate(35.43,568.70) rotate(-90)" x="0" y="0" font-size="8.8" text-anchor="middle" textLength="49.00" lengthAdjust="spacingAndGlyphs" fill="#111" style="stroke-width:0.4px">Pediatric schwind</text>
<line x1="62.70" y1="596.20" x2="62.70" y2="599.20" stroke="#000" stroke-width="1.0"/>
<text x="62.70" y="607.88" font-size="7.2" text-anchor="middle" textLength="4.20" lengthAdjust="spacingAndGlyphs" fill="#111">0</text>
<line x1="115.23" y1="596.20" x2="115.23" y2="599.20" stroke="#000" stroke-width="1.0"/>
<text x="115.23" y="607.88" font-size="7.2" text-anchor="middle" textLength="8.60" lengthAdjust="spacingAndGlyphs" fill="#111">20</text>
<line x1="167.75" y1="596.20" x2="167.75" y2="599.20" stroke="#000" stroke-width="1.0"/>
<text x="167.75" y="607.88" font-size="7.2" text-anchor="middle" textLength="8.60" lengthAdjust="spacingAndGlyphs" fill="#111">40</text>
<line x1="220.28" y1="596.20" x2="220.28" y2="599.20" stroke="#000" stroke-width="1.0"/>
<text x="220.28" y="607.88" font-size="7.2" text-anchor="middle" textLength="8.60" lengthAdjust="spacingAndGlyphs" fill="#111">60</text>
<line x1="272.80" y1="596.20" x2="272.80" y2="599.20" stroke="#000" stroke-width="1.0"/>
<text x="272.80" y="607.88" font-size="7.2" text-anchor="middle" textLength="8.60" lengthAdjust="spacingAndGlyphs" fill="#111">80</text>
<text x="133.60" y="619.90" font-size="9.0" style="stroke-width:0.4px" textLength="67.60" lengthAdjust="spacingAndGlyphs" fill="#111">Age at diagnosis (years)</text>
<line x1="106.90" y1="549.50" x2="256.90" y2="549.50" stroke="#000" stroke-width="1.05"/>
<line x1="106.90" y1="548.50" x2="106.90" y2="550.50" stroke="#000" stroke-width="0.9"/>
<line x1="256.90" y1="548.50" x2="256.90" y2="550.50" stroke="#000" stroke-width="0.9"/>
<circle cx="171.2" cy="549.5" r="1.3" fill="#000"/>
<line x1="120.80" y1="562.40" x2="225.70" y2="562.40" stroke="#000" stroke-width="1.05"/>
<line x1="120.80" y1="561.40" x2="120.80" y2="563.40" stroke="#000" stroke-width="0.9"/>
<line x1="225.70" y1="561.40" x2="225.70" y2="563.40" stroke="#000" stroke-width="0.9"/>
<circle cx="171.2" cy="562.4" r="1.3" fill="#000"/>
<path d="M63.30,574.90 L63.30,573.70 L63.80,573.00 L65.00,572.80 L72.00,572.80 L80.00,572.80 L86.00,572.20 L92.00,571.40 L98.50,570.90 L103.00,571.10 L108.00,571.90 L113.00,572.90 L119.00,573.90 L124.60,574.50 L124.60,575.30 L119.00,575.90 L113.00,576.90 L108.00,577.90 L103.00,578.70 L98.50,578.90 L92.00,578.40 L86.00,577.60 L80.00,577.00 L72.00,577.00 L65.00,577.00 L63.80,576.80 L63.30,576.10 Z" fill="#0f4a8a" stroke="#000" stroke-width="0.7" stroke-linejoin="round"/>
<line x1="124.60" y1="574.90" x2="132.30" y2="574.90" stroke="#000" stroke-width="0.9"/>
<line x1="80.00" y1="572.90" x2="80.00" y2="576.90" stroke="#000" stroke-width="0.8"/>
<line x1="95.40" y1="572.30" x2="95.40" y2="577.50" stroke="#000" stroke-width="0.8"/>
<line x1="105.40" y1="572.30" x2="105.40" y2="577.50" stroke="#000" stroke-width="0.8"/>
<line x1="97.80" y1="571.50" x2="97.80" y2="578.30" stroke="#000" stroke-width="0.6" stroke-dasharray="0.8,0.8"/>
<path d="M64.30,587.50 L64.30,585.10 L64.80,584.40 L66.00,584.20 L70.00,584.30 L74.00,584.80 L80.00,585.20 L88.00,585.50 L100.80,585.90 L110.00,586.40 L118.50,587.10 L118.50,587.90 L110.00,588.60 L100.80,589.10 L88.00,589.50 L80.00,589.80 L74.00,590.20 L70.00,590.70 L66.00,590.80 L64.80,590.60 L64.30,589.90 Z" fill="#c8102e" stroke="#000" stroke-width="0.7" stroke-linejoin="round"/>
<line x1="118.50" y1="587.50" x2="136.90" y2="587.50" stroke="#000" stroke-width="0.9"/>
<line x1="68.50" y1="584.70" x2="68.50" y2="590.30" stroke="#000" stroke-width="0.8"/>
<line x1="100.80" y1="585.90" x2="100.80" y2="589.10" stroke="#000" stroke-width="0.8"/>
<line x1="71.50" y1="584.80" x2="71.50" y2="590.20" stroke="#000" stroke-width="0.6" stroke-dasharray="0.8,0.8"/>
<path d="M141.3,575.0 L144.1,575.0 M142.7,575.0 L142.7,588.0 M141.3,588.0 L144.1,588.0" fill="none" stroke="#000" stroke-width="1.2"/>
<text x="146.10" y="583.62" font-size="5.0" textLength="2.20" lengthAdjust="spacingAndGlyphs" fill="#111">*</text>
<line x1="151.90" y1="581.10" x2="163.50" y2="581.10" stroke="#000" stroke-width="1.0"/>
<text x="166.50" y="583.23" font-size="6.2" font-style="italic" textLength="43.10" lengthAdjust="spacingAndGlyphs" fill="#111">p-value = 0.019</text>
<rect x="230.30" y="574.20" width="8.20" height="4.60" fill="#0f4a8a" stroke="#000" stroke-width="0.7"/>
<rect x="230.30" y="582.60" width="8.20" height="4.60" fill="#c8102e" stroke="#000" stroke-width="0.7"/>
<text x="241.80" y="578.80" font-size="6.4" textLength="19.70" lengthAdjust="spacingAndGlyphs" fill="#111">E5-E33</text>
<text x="241.80" y="587.10" font-size="6.4" textLength="14.80" lengthAdjust="spacingAndGlyphs" fill="#111">Other</text>
</svg>
</body></html>
